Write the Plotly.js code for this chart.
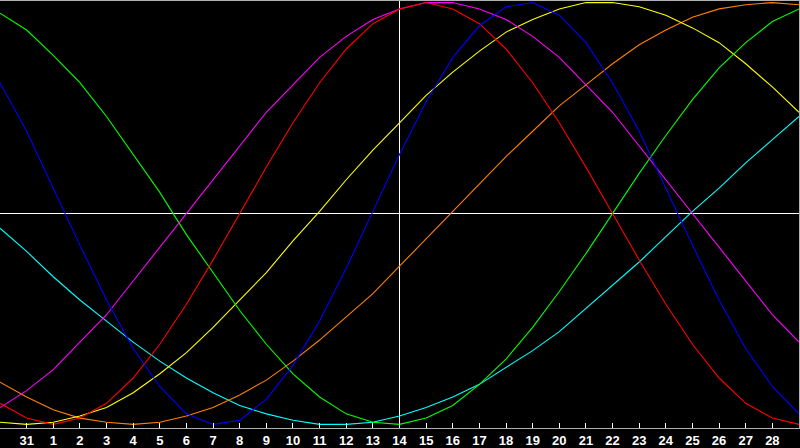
<!DOCTYPE html>
<html>
<head>
<meta charset="utf-8">
<script src="https://cdn.plot.ly/plotly-3.0.1.min.js"></script>
<style>
html,body{margin:0;padding:0;background:#000;}
#chart{width:800px;height:448px;}
</style>
</head>
<body>
<div id="chart"></div>
<script>
// day labels, one per plotted day (first and last are off-tick)
const days = ['30','31','1','2','3','4','5','6','7','8','9','10','11','12','13','14',
  '15','16','17','18','19','20','21','22','23','24','25','26','27','28','29']

// cycle values, -1..1
const red = [-0.90,-0.97,-1.00,-0.97,-0.90,-0.78,-0.62,-0.43,-0.22,0.00,0.22,0.43,0.62,0.78,0.90,0.97,
  1.00,0.97,0.90,0.78,0.62,0.43,0.22,0.00,-0.22,-0.43,-0.62,-0.78,-0.90,-0.97,-1.00]
const green = [0.95,0.87,0.75,0.62,0.46,0.28,0.10,-0.10,-0.28,-0.46,-0.62,-0.76,-0.87,-0.95,-0.99,-1.00,
  -0.97,-0.91,-0.81,-0.69,-0.54,-0.37,-0.19,0.00,0.19,0.37,0.54,0.69,0.81,0.91,0.97]
const blue = [0.62,0.39,0.12,-0.15,-0.41,-0.64,-0.82,-0.95,-1.00,-0.98,-0.88,-0.72,-0.51,-0.26,0.01,0.28,
  0.53,0.74,0.89,0.98,1.00,0.94,0.81,0.62,0.39,0.12,-0.15,-0.41,-0.64,-0.82,-0.95]
const magenta = [-0.92,-0.84,-0.74,-0.61,-0.48,-0.32,-0.16,0.00,0.16,0.32,0.48,0.61,0.74,0.84,0.92,0.97,
  1.00,1.00,0.97,0.92,0.84,0.74,0.61,0.48,0.32,0.16,0.00,-0.16,-0.32,-0.48,-0.61]
const yellow = [-0.99,-1.00,-0.99,-0.96,-0.92,-0.85,-0.76,-0.66,-0.54,-0.41,-0.28,-0.13,0.01,0.16,0.30,0.43,
  0.56,0.67,0.77,0.86,0.92,0.97,1.00,1.00,0.98,0.94,0.88,0.81,0.71,0.60,0.48]
const cyan = [-0.07,-0.18,-0.30,-0.41,-0.51,-0.61,-0.70,-0.78,-0.85,-0.91,-0.95,-0.98,-1.00,-1.00,-0.99,-0.96,
  -0.92,-0.87,-0.81,-0.73,-0.65,-0.56,-0.45,-0.34,-0.23,-0.11,0.01,0.12,0.24,0.35,0.46]
const orange = [-0.80,-0.87,-0.93,-0.97,-0.99,-1.00,-0.99,-0.96,-0.92,-0.86,-0.79,-0.70,-0.60,-0.49,-0.38,-0.25,
  -0.12,0.01,0.14,0.27,0.39,0.51,0.61,0.71,0.80,0.87,0.93,0.97,0.99,1.00,0.99]

const today = 15  // index of the day marked by the vertical line

const xx = days.map((_,i)=>i)
const mk = (y,color)=>({x:xx,y:y,type:'scatter',mode:'lines',line:{color:color,width:1.1},hoverinfo:'skip'})

let traces = [
  mk(cyan,'#00ffff'),
  mk(orange,'#ff8000'),
  mk(yellow,'#ffff00'),
  mk(green,'#00ff00'),
  mk(magenta,'#ff00ff'),
  mk(red,'#ff0000'),
  mk(blue,'#0000ff')
]

let layout = {
  width:800,
  height:448,
  margin:{l:0,r:1,t:1,b:20,pad:0},
  paper_bgcolor:'#000',
  plot_bgcolor:'#000',
  showlegend:false,
  xaxis:{
    range:[0,30],
    showgrid:false,
    zeroline:false,
    showline:true,
    mirror:true,
    linecolor:'#b0b0b0',
    linewidth:1,
    ticks:'inside',
    ticklen:5,
    tickcolor:'#ffffff',
    tickvals:xx.slice(1,30),
    ticktext:days.slice(1,30),
    tickfont:{family:'Liberation Sans, Arial, sans-serif',size:13,color:'#ffffff',weight:'bold'}
  },
  yaxis:{
    // top nudged so the zero line lands on a whole pixel
    range:[-1.017,1.0075],
    showgrid:false,
    zeroline:false,
    showline:true,
    mirror:true,
    linecolor:'#b0b0b0',
    linewidth:1,
    showticklabels:false,
    ticks:''
  },
  shapes:[
    {type:'line',xref:'x',yref:'paper',x0:today,x1:today,y0:0,y1:1,line:{color:'#ffffff',width:1},layer:'below'},
    {type:'line',xref:'paper',yref:'y',x0:0,x1:1,y0:0,y1:0,line:{color:'#ffffff',width:1},layer:'below'}
  ]
}

Plotly.newPlot(document.getElementById('chart'),traces,layout,{displayModeBar:false,staticPlot:true})
</script>
</body>
</html>
